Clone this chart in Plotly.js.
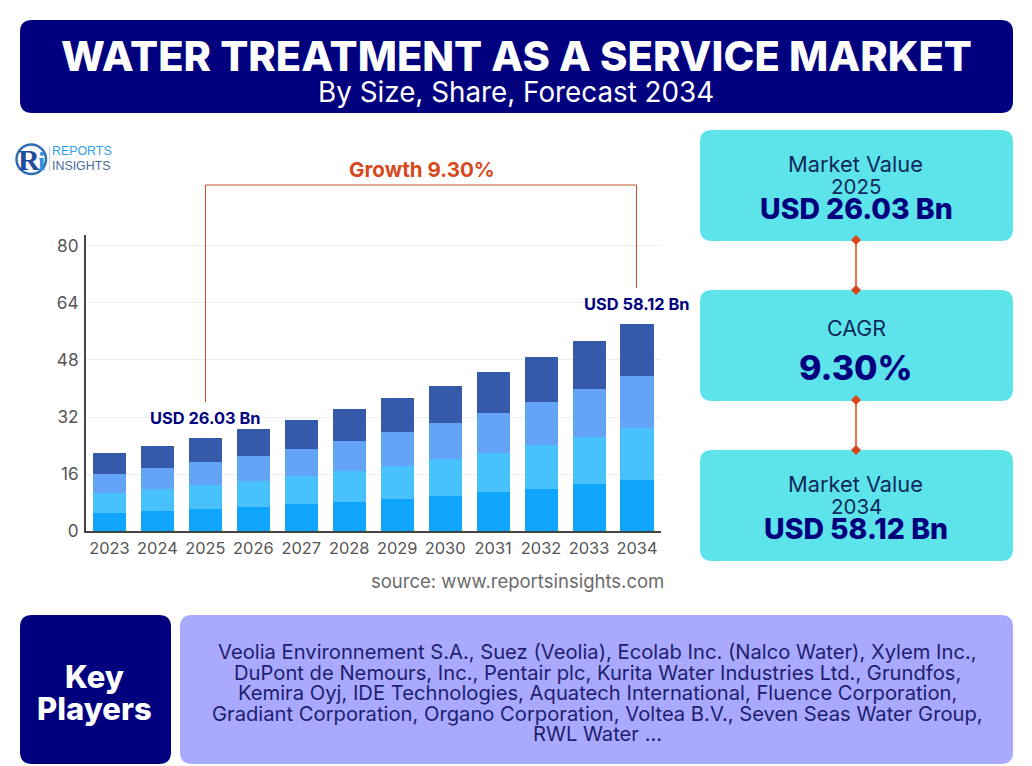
<!DOCTYPE html>
<html><head><meta charset="utf-8">
<script src="https://cdn.plot.ly/plotly-3.0.1.min.js"></script>
<style>html,body{margin:0;padding:0;background:#fff}#c{width:1032px;height:766px}</style>
</head><body><div id="c"></div>
<script>
var years=['2023','2024','2025','2026','2027','2028','2029','2030','2031','2032','2033','2034'];
var seriesA=[5.1,5.7,6.3,6.8,7.7,8.2,9.1,9.9,11.0,11.9,13.3,14.4];
var seriesB=[5.6,6.2,6.7,7.3,7.8,8.7,9.2,10.4,10.9,12.3,13.1,14.5];
var seriesC=[5.4,5.8,6.4,7.0,7.6,8.4,9.5,10.0,11.2,12.0,13.5,14.6];
var seriesD=[5.8,6.2,6.63,7.5,8.1,9.0,9.5,10.4,11.5,12.6,13.4,14.62];
var colors=['#0ea5fb','#48c1fd','#63a4f9','#355aaa'];
var yTicks=[0,16,32,48,64,80];
var W=1032,H=766;
function X(p){return p/W}
function Y(p){return 1-p/H}
var FONT='Inter, "Noto Sans", sans-serif';
function rr(x0,y0,x1,y1,r,fill){
  var d=['M',X(x0+r),Y(y0),'L',X(x1-r),Y(y0),'Q',X(x1),Y(y0),X(x1),Y(y0+r),'L',X(x1),Y(y1-r),'Q',X(x1),Y(y1),X(x1-r),Y(y1),'L',X(x0+r),Y(y1),'Q',X(x0),Y(y1),X(x0),Y(y1-r),'L',X(x0),Y(y0+r),'Q',X(x0),Y(y0),X(x0+r),Y(y0),'Z'].join(' ');
  return {type:'path',xref:'paper',yref:'paper',path:d,fillcolor:fill,line:{width:0},layer:'below'};
}
function ln(x0,y0,x1,y1,c,w){return {type:'line',xref:'paper',yref:'paper',x0:X(x0),y0:Y(y0),x1:X(x1),y1:Y(y1),line:{color:c,width:w},layer:'above'};}
function dia(x,y,c){var r=5;return {type:'path',xref:'paper',yref:'paper',path:['M',X(x),Y(y-r),'L',X(x+r),Y(y),'L',X(x),Y(y+r),'L',X(x-r),Y(y),'Z'].join(' '),fillcolor:c,line:{width:0},layer:'above'};}
function tx(t,x,y,size,color,weight,opt){
  var a={text:t,xref:'paper',yref:'paper',x:X(x),y:Y(y),xanchor:'center',yanchor:'middle',showarrow:false,font:{family:FONT,size:size,color:color,weight:weight||400},borderpad:0};
  for(var k in (opt||{}))a[k]=opt[k];
  return a;
}
var navy='#00007f',teal='#5de3ea',org='#d9481c',dk='#0e2a5c',ind='#1e1e6e';
var shapes=[
 rr(20,20,1013,113,12,navy),
 rr(700,130,1013,241,12,teal),rr(700,290,1013,401,12,teal),rr(700,450,1013,561,12,teal),
 rr(20,615,171,764,12,navy),rr(180,615,1013,764,12,'#a9a9ff'),
 ln(205.5,185,636.5,185,'#c4522b',1),ln(205.5,185,205.5,402,'#c4522b',1),ln(636.5,185,636.5,288,'#c4522b',1),
 ln(856,240,856,290,org,1.5),ln(856,400,856,450,org,1.5),
 dia(856,240,org),dia(856,290,org),dia(856,400,org),dia(856,450,org),
 {type:'circle',xref:'paper',yref:'paper',x0:X(16.5),y0:Y(144.5),x1:X(46),y1:Y(174),line:{color:'#2f6db5',width:2.5},fillcolor:'rgba(0,0,0,0)'},
 ln(49.5,147,49.5,172,'#c5d3e0',1)
];
var ann=[
 tx('WATER TREATMENT AS A SERVICE MARKET',516.5,56,41.6,'#fff',800),
 tx('By Size, Share, Forecast 2034',516,92.5,27.8,'#fff',400),
 tx('Growth 9.30%',421.5,169.5,20.6,org,700),
 tx('USD 26.03 Bn',205,418,16.4,navy,700,{bgcolor:'#fff'}),
 tx('USD 58.12 Bn',636.5,304,16.4,navy,700,{bgcolor:'#fff'}),
 tx('source: www.reportsinsights.com',517,581,18.5,'#6b6b6b',400),
 tx('Market Value',855,164,21.8,dk,400),
 tx('2025',856,186,20.5,dk,400),
 tx('USD 26.03 Bn',856,208.5,28.4,navy,800),
 tx('CAGR',856,328,21.4,dk,400),
 tx('9.30%',856,368,34,navy,800),
 tx('Market Value',855,484,21.8,dk,400),
 tx('2034',856,506,20.5,dk,400),
 tx('USD 58.12 Bn',856,528.5,28.4,navy,800),
 tx('Key',94,676.5,31,'#fff',800),
 tx('Players',94,708,31,'#fff',800),
 tx('Veolia Environnement S.A., Suez (Veolia), Ecolab Inc. (Nalco Water), Xylem Inc.,',597,651.5,20.2,ind,400),
 tx('DuPont de Nemours, Inc., Pentair plc, Kurita Water Industries Ltd., Grundfos,',597,672,20.2,ind,400),
 tx('Kemira Oyj, IDE Technologies, Aquatech International, Fluence Corporation,',597,692.5,20.2,ind,400),
 tx('Gradiant Corporation, Organo Corporation, Voltea B.V., Seven Seas Water Group,',597,713,20.2,ind,400),
 tx('RWL Water ...',597,733,20.2,ind,400),
 tx('R',29,160,30,'#1f4e9c',700,{font:{family:'"Liberation Serif",serif',size:30,color:'#1f4e9c',weight:700}}),
 tx('i',41,161,26,'#2f8fd8',700,{font:{family:'"Liberation Serif",serif',size:26,color:'#2f8fd8',weight:700}}),
 tx('REPORTS',81.5,151.5,12.4,'#2f9fe8',400,{font:{family:'"Liberation Sans",sans-serif',size:12.4,color:'#2f9fe8'}}),
 tx('INSIGHTS',81.5,166,12.4,'#4a6a9a',400,{font:{family:'"Liberation Sans",sans-serif',size:12.4,color:'#4a6a9a'}})
];
var names=['Segment A','Segment B','Segment C','Segment D'];
var data=[seriesA,seriesB,seriesC,seriesD].map(function(v,i){return {type:'bar',x:years,y:v,name:names[i],marker:{color:colors[i],line:{width:0}},hoverinfo:'x+y'};});
Plotly.newPlot('c',data,{
 width:W,height:H,margin:{l:0,r:0,t:0,b:0},paper_bgcolor:'#fff',plot_bgcolor:'#fff',
 barmode:'stack',bargap:0.31,showlegend:false,
 xaxis:{domain:[X(85.5),X(661)],type:'category',range:[-0.5,11.5],showgrid:false,showline:true,linecolor:'#444',linewidth:1.5,ticks:'',tickfont:{family:FONT,size:16.4,color:'#555'},ticklabelstandoff:2,automargin:false,anchor:'y',tickangle:0},
 yaxis:{domain:[1-531.3/H,1-235/H],range:[0,83],tickmode:'array',tickvals:yTicks,ticktext:yTicks.map(String),showgrid:true,gridcolor:'#ececec',gridwidth:1,zeroline:false,showline:true,linecolor:'#444',linewidth:1.5,ticks:'',tickfont:{family:FONT,size:17.2,color:'#555'},ticklabelstandoff:2,automargin:false},
 shapes:shapes,annotations:ann
},{displayModeBar:false,staticPlot:true});
</script></body></html>
